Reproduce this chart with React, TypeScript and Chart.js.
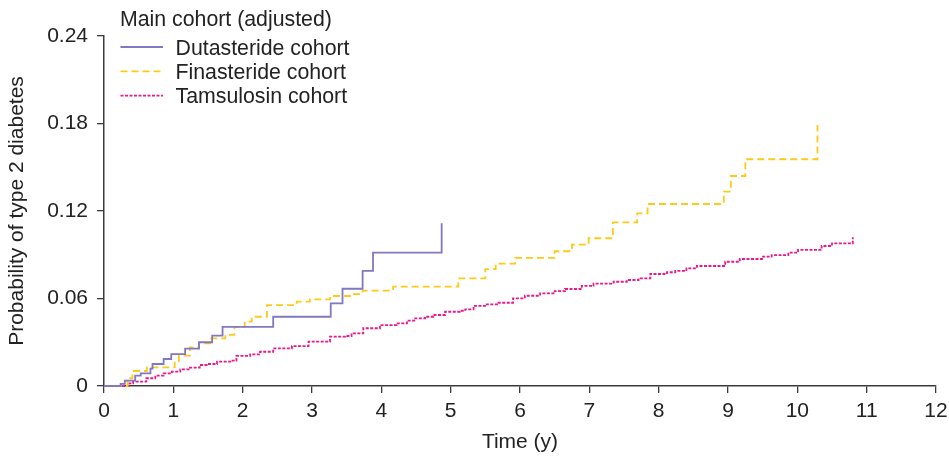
import React, { useEffect, useRef } from "react";
import { Chart, registerables } from "chart.js";

Chart.register(...registerables);

const legendTitle = "Main cohort (adjusted)";
const seriesNames = ["Dutasteride cohort", "Finasteride cohort", "Tamsulosin cohort"];
const xTitle = "Time (y)";
const yTitle = "Probability of type 2 diabetes";
const xTickValues = [0, 1, 2, 3, 4, 5, 6, 7, 8, 9, 10, 11, 12];
const yTickValues = [0, 0.06, 0.12, 0.18, 0.24];
const yTickLabels = ["0", "0.06", "0.12", "0.18", "0.24"];

const dutT = [0, 0.24, 0.30, 0.45, 0.53, 0.67, 0.70, 0.86, 0.97, 1.17, 1.37, 1.56, 1.71, 2.44, 3.27, 3.44, 3.73, 3.88, 4.87];
const dutP = [0, 0.0014, 0.0037, 0.0071, 0.0087, 0.0119, 0.0151, 0.0185, 0.0219, 0.0256, 0.0300, 0.0345, 0.0405, 0.0475, 0.0567, 0.0667, 0.0789, 0.0914, 0.1116];

const finT = [0, 0.34, 0.41, 0.62, 1.02, 1.08, 1.24, 1.37, 1.55, 1.75, 1.88, 2.03, 2.13, 2.35, 2.78, 2.97, 3.26, 3.57, 3.73, 4.17, 5.11, 5.50, 5.65, 5.93, 6.50, 6.75, 6.99, 7.34, 7.69, 7.84, 8.94, 9.04, 9.25, 10.29];
const finP = [0, 0.0053, 0.0103, 0.0128, 0.0160, 0.0208, 0.0265, 0.0293, 0.0327, 0.0350, 0.0405, 0.0441, 0.0475, 0.0555, 0.0578, 0.0594, 0.0617, 0.0630, 0.0654, 0.0681, 0.0738, 0.0802, 0.0839, 0.0878, 0.0924, 0.0969, 0.1013, 0.1122, 0.1184, 0.1248, 0.1333, 0.1440, 0.1555, 0.1790];

const tamT = [0, 0.35, 0.42, 0.61, 0.74, 0.86, 0.98, 1.10, 1.22, 1.38, 1.48, 1.63, 1.82, 1.91, 2.11, 2.25, 2.44, 2.71, 2.95, 3.26, 3.48, 3.57, 3.74, 3.98, 4.22, 4.37, 4.49, 4.63, 4.75, 4.92, 5.13, 5.21, 5.33, 5.52, 5.69, 5.90, 6.07, 6.29, 6.50, 6.65, 6.89, 7.06, 7.35, 7.54, 7.71, 7.88, 8.12, 8.24, 8.40, 8.55, 8.96, 9.17, 9.49, 9.63, 9.87, 10.01, 10.35, 10.50, 10.80];
const tamP = [0, 0.0018, 0.0030, 0.0053, 0.0071, 0.0087, 0.0098, 0.0114, 0.0126, 0.0144, 0.0151, 0.0167, 0.0174, 0.0206, 0.0217, 0.0235, 0.0258, 0.0274, 0.0304, 0.0338, 0.0343, 0.0361, 0.0396, 0.0418, 0.0430, 0.0448, 0.0464, 0.0475, 0.0487, 0.0509, 0.0516, 0.0526, 0.0549, 0.0560, 0.0571, 0.0601, 0.0619, 0.0635, 0.0651, 0.0665, 0.0686, 0.0702, 0.0715, 0.0727, 0.0738, 0.0768, 0.0780, 0.0789, 0.0807, 0.0823, 0.0852, 0.0871, 0.0887, 0.0898, 0.0914, 0.0933, 0.0960, 0.0978, 0.1020];

const colors = ["#8078c0", "#ffc918", "#e8188c"];
const dashes: number[][] = [[], [7, 4], [3, 1.5]];
const FONT = "'Liberation Sans', Arial, Helvetica, sans-serif";
const TEXT = "#222222";
const AXIS = "#3a3a3a";

const toPts = (t: number[], p: number[]) => t.map((x, i) => ({ x, y: p[i] }));

const legendPlugin = {
  id: "customLegend",
  afterDraw(chart: any) {
    const ctx = chart.ctx;
    ctx.save();
    ctx.font = `21.3px ${FONT}`;
    ctx.fillStyle = TEXT;
    ctx.textBaseline = "alphabetic";
    ctx.textAlign = "left";
    ctx.fillText(legendTitle, 120, 26);
    seriesNames.forEach((name, i) => {
      const yLine = 47 + i * 24.3;
      ctx.beginPath();
      ctx.strokeStyle = colors[i];
      ctx.lineWidth = 1.8;
      ctx.setLineDash(dashes[i]);
      ctx.moveTo(120.5, yLine);
      ctx.lineTo(163, yLine);
      ctx.stroke();
      ctx.setLineDash([]);
      ctx.fillStyle = TEXT;
      ctx.fillText(name, 175.5, yLine + 7.8);
    });
    ctx.restore();
  },
};

export default function App() {
  const ref = useRef<HTMLCanvasElement | null>(null);
  useEffect(() => {
    if (!ref.current) return;
    Chart.defaults.font.family = FONT;
    Chart.defaults.color = TEXT;
    const data = [toPts(dutT, dutP), toPts(finT, finP), toPts(tamT, tamP)];
    const chart = new Chart(ref.current, {
      type: "line",
      data: {
        datasets: data.map((d, i) => ({
          label: seriesNames[i],
          data: d,
          borderColor: colors[i],
          borderWidth: 1.8,
          borderDash: dashes[i],
          pointRadius: 0,
          fill: false,
          stepped: "before" as const,
          clip: false as any,
        })),
      },
      options: {
        animation: false,
        responsive: true,
        maintainAspectRatio: false,
        layout: { padding: { top: 36, right: 13, left: 0, bottom: 0 } },
        plugins: { legend: { display: false }, tooltip: { enabled: false } },
        scales: {
          x: {
            type: "linear",
            min: 0,
            max: 12,
            afterFit: (s: any) => { s.height = 70; s.paddingLeft = 0; s.paddingRight = 0; },
            afterBuildTicks: (s: any) => { s.ticks = xTickValues.map((v) => ({ value: v })); },
            border: { display: true, color: AXIS, width: 1.5 },
            grid: { drawOnChartArea: false, drawTicks: true, tickLength: 7, color: AXIS, lineWidth: 1.3 },
            ticks: { font: { size: 21 }, color: TEXT, padding: 6, maxRotation: 0, autoSkip: false },
            title: { display: true, text: xTitle, font: { size: 21 }, color: TEXT, padding: { top: 0, bottom: 1 } },
          },
          y: {
            type: "linear",
            min: 0,
            max: 0.24,
            afterFit: (s: any) => { s.width = 104; s.paddingTop = 0; s.paddingBottom = 0; },
            afterBuildTicks: (s: any) => { s.ticks = yTickValues.map((v) => ({ value: v })); },
            border: { display: true, color: AXIS, width: 1.5 },
            grid: { drawOnChartArea: false, drawTicks: true, tickLength: 7, color: AXIS, lineWidth: 1.3 },
            ticks: {
              font: { size: 21 },
              color: TEXT,
              padding: 9,
              autoSkip: false,
              callback: (_v: any, i: number) => yTickLabels[i],
            },
            title: { display: true, text: yTitle, font: { size: 21 }, color: TEXT, padding: { top: 5, bottom: 0 } },
          },
        },
      },
      plugins: [legendPlugin],
    });
    return () => chart.destroy();
  }, []);
  return (
    <div style={{ position: "fixed", left: 0, top: 0, width: 949, height: 456, background: "#fff" }}>
      <canvas ref={ref} />
    </div>
  );
}
